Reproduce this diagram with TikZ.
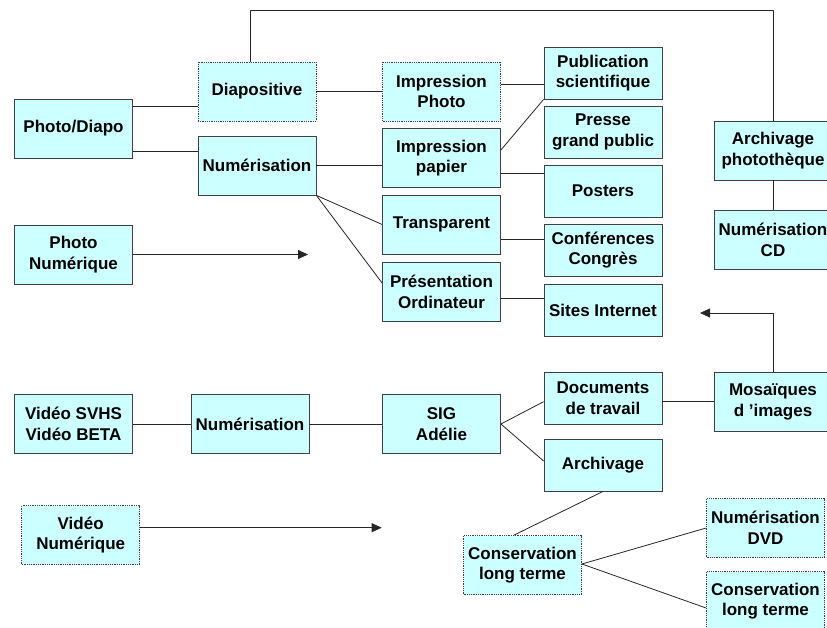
\documentclass[tikz,border=0pt]{standalone}
\usepackage{fontspec}
\setmainfont{Liberation Sans}
\usetikzlibrary{arrows.meta}

\definecolor{boxfill}{HTML}{CCFFFF}

\begin{document}
\begin{tikzpicture}[x=1pt, y=-1pt, line width=0.8pt,
    block/.style={rectangle, draw=black!75, fill=boxfill, align=center, inner sep=1pt,
      minimum width=118pt, minimum height=59pt,
      font=\fontsize{17}{20.7}\selectfont\bfseries},
    small/.style={block, minimum height=52pt},
    planned/.style={block, densely dotted},
    link/.style={draw=black!85},
    feed/.style={link, -{Triangle[length=10pt, width=9pt]}}]

    \useasboundingbox (0,0) rectangle (827,627);
    \clip (0,0) rectangle (827,627);

    % photo branch
    \node[block] (photodiapo) at (73.5,128.5) {Photo/Diapo};
    \node[planned] (diapo) at (257,91.5) {Diapositive};
    \node[block] (numphoto) at (257,165.5) {Numérisation};
    \node[block] (photonum) at (73.5,254.5) {Photo\\Numérique};

    \node[planned] (impphoto) at (441.5,91.5) {Impression\\Photo};
    \node[block] (imppapier) at (441.5,158) {Impression\\papier};
    \node[block] (transp) at (441.5,224.5) {Transparent};
    \node[block] (presord) at (441.5,291.5) {Présentation\\Ordinateur};

    \node[small] (pubsci) at (603,73) {Publication\\scientifique};
    \node[small] (presse) at (603,132) {Presse\\grand public};
    \node[small] (posters) at (603,191) {Posters};
    \node[small] (conf) at (603,250) {Conférences\\Congrès};
    \node[small] (sites) at (603,310) {Sites Internet};

    \node[block] (archphoto) at (773,150.5) {Archivage\\photothèque};
    \node[block] (numcd) at (773,239.5) {Numérisation\\CD};

    % video branch
    \node[block] (videosvhs) at (73.5,424) {Vidéo SVHS\\Vidéo BETA};
    \node[block] (numvideo) at (250,424) {Numérisation};
    \node[block] (sig) at (441.5,424) {SIG\\Adélie};
    \node[planned] (videonum) at (80.7,535) {Vidéo\\Numérique};

    \node[small] (doctrav) at (603,398) {Documents\\de travail};
    \node[small] (archiv) at (603,465) {Archivage};
    \node[block] (mosaique) at (773,402) {Mosaïques\\d 'images};

    \node[planned] (conslt) at (522.5,565) {Conservation\\long terme};
    \node[planned] (numdvd) at (765.5,528) {Numérisation\\DVD};
    \node[planned] (conslt2) at (765.5,601) {Conservation\\long terme};

    \coordinate (topbend) at (773,10);
    \coordinate (photoend) at (308,254.5);
    \coordinate (videoend) at (381.7,527.7);
    \coordinate (sitesend) at (700,313);

    \draw[link] ([yshift=22.5pt]photodiapo.east) -- ([yshift=-14.5pt]diapo.west);
    \draw[link] ([yshift=-22.5pt]photodiapo.east) -- ([yshift=14.5pt]numphoto.west);
    \draw[link] ([xshift=-7pt]diapo.north) |- (topbend) -- (archphoto.north);
    \draw[link] (diapo.east) -- (impphoto.west);
    \draw[link] (numphoto.east) -- ([yshift=-7.5pt]imppapier.west);
    \draw[link] (numphoto.south east) -- (transp.west);
    \draw[link] (numphoto.south east) -- ([yshift=8.5pt]presord.west);

    \draw[link] ([yshift=7.5pt]impphoto.east) -- ([yshift=-11pt]pubsci.west);
    \draw[link] ([yshift=8pt]imppapier.east) -- (pubsci.south west);
    \draw[link] ([yshift=-15pt]imppapier.east) -- ([yshift=18pt]posters.west);
    \draw[link] ([yshift=-14.5pt]transp.east) -- ([yshift=11pt]conf.west);
    \draw[link] ([yshift=-6.5pt]presord.east) -- ([yshift=12pt]sites.west);
    \draw[link] (archphoto.south) -- (numcd.north);

    \draw[feed] (photonum.east) -- (photoend);
    \draw[feed] (mosaique.north) |- (sitesend);

    \draw[link] (videosvhs.east) -- (numvideo.west);
    \draw[link] (numvideo.east) -- (sig.west);
    \draw[link] (sig.east) -- ([yshift=-3.7pt]doctrav.west);
    \draw[link] (sig.east) -- ([yshift=4pt]archiv.west);
    \draw[link] ([yshift=-3pt]doctrav.east) -- ([yshift=1pt]mosaique.west);
    \draw[link] (archiv.south) -- ([xshift=-8.5pt]conslt.north);
    \draw[link] ([yshift=1pt]conslt.east) -- (numdvd.west);
    \draw[link] ([yshift=1pt]conslt.east) -- ([yshift=-7pt]conslt2.west);

    \draw[feed] ([yshift=7.3pt]videonum.east) -- (videoend);

\end{tikzpicture}
\end{document}
